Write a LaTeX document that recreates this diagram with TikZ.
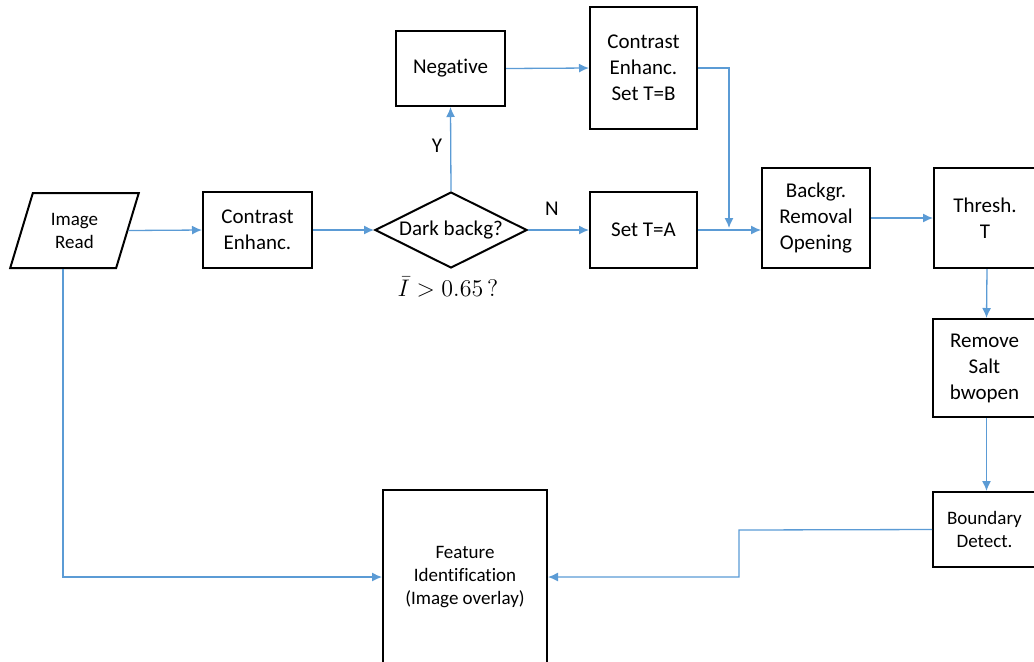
\documentclass[tikz,border=0pt]{standalone}
\usepackage{fontspec}
\setmainfont{Carlito}[Ligatures=NoCommon]
\usetikzlibrary{shapes.geometric,arrows.meta,positioning}

\definecolor{flowblue}{HTML}{5B9BD5}

\tikzset{
  block/.style={draw, line width=1pt, inner sep=0pt, align=center,
                font=\fontsize{10.5}{13}\selectfont},
  smallblock/.style={block, font=\fontsize{9.5}{11.5}\selectfont},
  flow/.style={draw=flowblue, line width=0.65pt, -{Latex[length=5pt,width=4.5pt]}},
}

\begin{document}
\begin{tikzpicture}[x=0.5pt, y=-0.5pt]

    \useasboundingbox (0,0) rectangle (1034,661);

    % top row
    \node [smallblock, trapezium, trapezium left angle=70, trapezium right angle=110,
           trapezium stretches=true, minimum width=64.5pt, minimum height=37.5pt]
           (img) at (74.5,230.5) {Image\\Read};
    \node [block, minimum width=54.5pt, minimum height=38pt] (enh) at (257.5,230) {Contrast\\Enhanc.};
    \node [block, diamond, aspect=2, minimum width=76pt, minimum height=38pt] (dark) at (451,230) {Dark backg?};
    \node [block, minimum width=54.5pt, minimum height=37.5pt] (neg) at (450.5,68.5) {Negative};
    \node [block, minimum width=53.5pt, minimum height=61pt] (setB) at (643.5,68) {Contrast\\Enhanc.\\Set T=B};
    \node [block, minimum width=53.5pt, minimum height=38pt] (setA) at (643.5,230) {Set T=A};
    \node [block, minimum width=54pt, minimum height=50pt] (backgr) at (816,218) {Backgr.\\Removal\\Opening};
    \node [block, minimum width=51pt, minimum height=50pt] (thresh) at (985,218) {Thresh.\\T};

    % right column and bottom
    \node [block, minimum width=51.5pt, minimum height=49pt] (remove) at (984.5,368) {Remove\\Salt\\bwopen};
    \node [smallblock, minimum width=51.5pt, minimum height=37.5pt] (bound) at (984.5,529.5) {Boundary\\Detect.};
    \node [smallblock, minimum width=82pt, minimum height=87pt] (feat) at (465,577) {Feature\\Identification\\(Image overlay)};

    % labels round the decision
    \node [font=\fontsize{10.5}{13}\selectfont] (ylab) at (437,146) {Y};
    \node [font=\fontsize{10.5}{13}\selectfont] (nlab) at (552,209) {N};
    \node [font=\fontsize{11.5}{14}\selectfont] (cond) at (448,287) {$\bar{I} > 0.65\,?$};

    \coordinate (join) at (729,228);
    \coordinate (step) at (739,530);

    % connectors
    \draw [flow] (img.east) -- (enh.west);
    \draw [flow] (enh.east) -- (dark.west);
    \draw [flow] (dark.east) -- (setA.west);
    \draw [flow] (dark.north) -- (neg.south);
    \draw [flow] (neg.east) -- (setB.west);
    \draw [flow] (setB.east) -| (join);
    \draw [flow] (setA.east) -- (setA.east -| backgr.west);
    \draw [flow] (backgr.east) -- (thresh.west);
    \draw [flow] ([xshift=1pt]thresh.south) -- ([xshift=1pt]remove.north);
    \draw [flow] ([xshift=1pt]remove.south) -- ([xshift=1pt]bound.north);
    \draw [flow] (bound.west) -- (step) |- (feat.east);
    \draw [flow] (img.bottom side) |- (feat.west);

\end{tikzpicture}
\end{document}
